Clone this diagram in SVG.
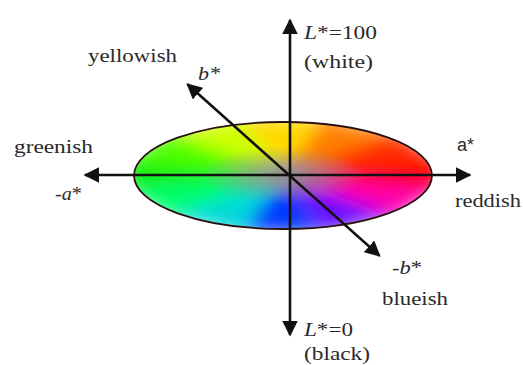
<svg xmlns="http://www.w3.org/2000/svg" width="523" height="365" viewBox="0 0 523 365">
<style>
.t{font-family:"Liberation Serif","Times New Roman",serif;font-size:19px;fill:#2a2a2a}
.i{font-style:italic}
.ax{stroke:#111;stroke-width:2.6;fill:none}
</style>
<defs>
<clipPath id="ec"><ellipse cx="283" cy="175.5" rx="149" ry="53.5"/></clipPath>
<filter id="bl" x="-20%" y="-40%" width="140%" height="180%"><feGaussianBlur stdDeviation="9"/></filter>
<radialGradient id="gr" cx="283" cy="175.5" r="149" gradientUnits="userSpaceOnUse" gradientTransform="translate(283 175.5) scale(1 0.36) translate(-283 -175.5)">
<stop offset="0" stop-color="#8a8a8a" stop-opacity="0.95"/>
<stop offset="0.25" stop-color="#909090" stop-opacity="0.55"/>
<stop offset="0.55" stop-color="#a0a0a0" stop-opacity="0"/>
</radialGradient>
<marker id="ah" viewBox="0 0 10 10" refX="9" refY="5" markerWidth="6" markerHeight="6" orient="auto-start-reverse" markerUnits="strokeWidth">
<path d="M0,0 L10,5 L0,10 Z" fill="#111"/>
</marker>
</defs>
<rect width="523" height="365" fill="#fff"/>
<g id="colour-disc">
<g clip-path="url(#ec)">
<g filter="url(#bl)">
<path d="M283,175 L437.5,159.5 L445,175 L437.5,190.5 Z" fill="#ff0000"/>
<path d="M283,175 L437.5,190.5 L396.1,217.4 Z" fill="#ff00b0"/>
<path d="M283,175 L396.1,217.4 L324.4,233 Z" fill="#6a10ff"/>
<path d="M283,175 L324.4,233 L241.6,233 Z" fill="#0038ff"/>
<path d="M283,175 L241.6,233 L169.9,217.4 Z" fill="#00d8d8"/>
<path d="M283,175 L169.9,217.4 L128.5,190.5 Z" fill="#00ff70"/>
<path d="M283,175 L128.5,190.5 L120,175 L128.5,159.5 Z" fill="#10f010"/>
<path d="M283,175 L128.5,159.5 L169.9,132.6 Z" fill="#50ff00"/>
<path d="M283,175 L169.9,132.6 L241.6,117 Z" fill="#d0ff00"/>
<path d="M283,175 L241.6,117 L324.4,117 Z" fill="#ffd800"/>
<path d="M283,175 L324.4,117 L396.1,132.6 Z" fill="#ff8000"/>
<path d="M283,175 L396.1,132.6 L437.5,159.5 Z" fill="#ff2a00"/>
</g>
<ellipse cx="283" cy="175.5" rx="149" ry="53.5" fill="url(#gr)"/>
</g>
<ellipse cx="283" cy="175.5" rx="149" ry="53.5" fill="none" stroke="#2a1010" stroke-width="1.8"/>
</g>
<g id="connectors">
<line class="ax" x1="101" y1="175" x2="83" y2="175" marker-end="url(#ah)" style="display:none"/>
<line class="ax" x1="85" y1="175" x2="470" y2="175" marker-start="url(#ah)" marker-end="url(#ah)"/>
<line class="ax" x1="290" y1="335" x2="290" y2="20" marker-start="url(#ah)" marker-end="url(#ah)"/>
<line class="ax" x1="379.5" y1="255.7" x2="187.5" y2="84.3" marker-start="url(#ah)" marker-end="url(#ah)"/>
</g>
<g id="label-white">
<text class="t" x="304" y="39" textLength="73" lengthAdjust="spacingAndGlyphs"><tspan class="i">L</tspan>*=100</text>
<text class="t" x="304" y="68" textLength="69" lengthAdjust="spacingAndGlyphs">(white)</text>
</g>
<g id="label-yellowish"><text class="t" x="88" y="62" textLength="89" lengthAdjust="spacingAndGlyphs">yellowish</text></g>
<g id="label-b"><text class="t i" x="198" y="80" textLength="22" lengthAdjust="spacingAndGlyphs">b*</text></g>
<g id="label-greenish"><text class="t" x="14" y="153" textLength="79" lengthAdjust="spacingAndGlyphs">greenish</text></g>
<g id="label-minus-a"><text class="t" x="55" y="200" textLength="27" lengthAdjust="spacingAndGlyphs">-<tspan class="i">a</tspan>*</text></g>
<g id="label-a"><text x="457" y="151" style="font-family:'Liberation Sans',Arial,sans-serif;font-size:18px;fill:#2a2a2a">a*</text></g>
<g id="label-reddish"><text class="t" x="455" y="207" textLength="66" lengthAdjust="spacingAndGlyphs">reddish</text></g>
<g id="label-minus-b"><text class="t" x="392" y="274" textLength="30" lengthAdjust="spacingAndGlyphs">-<tspan class="i">b</tspan>*</text></g>
<g id="label-blueish"><text class="t" x="382" y="305" textLength="66" lengthAdjust="spacingAndGlyphs">blueish</text></g>
<g id="label-black">
<text class="t" x="304" y="336" textLength="49" lengthAdjust="spacingAndGlyphs"><tspan class="i">L</tspan>*=0</text>
<text class="t" x="304" y="360" textLength="66" lengthAdjust="spacingAndGlyphs">(black)</text>
</g>
</svg>
